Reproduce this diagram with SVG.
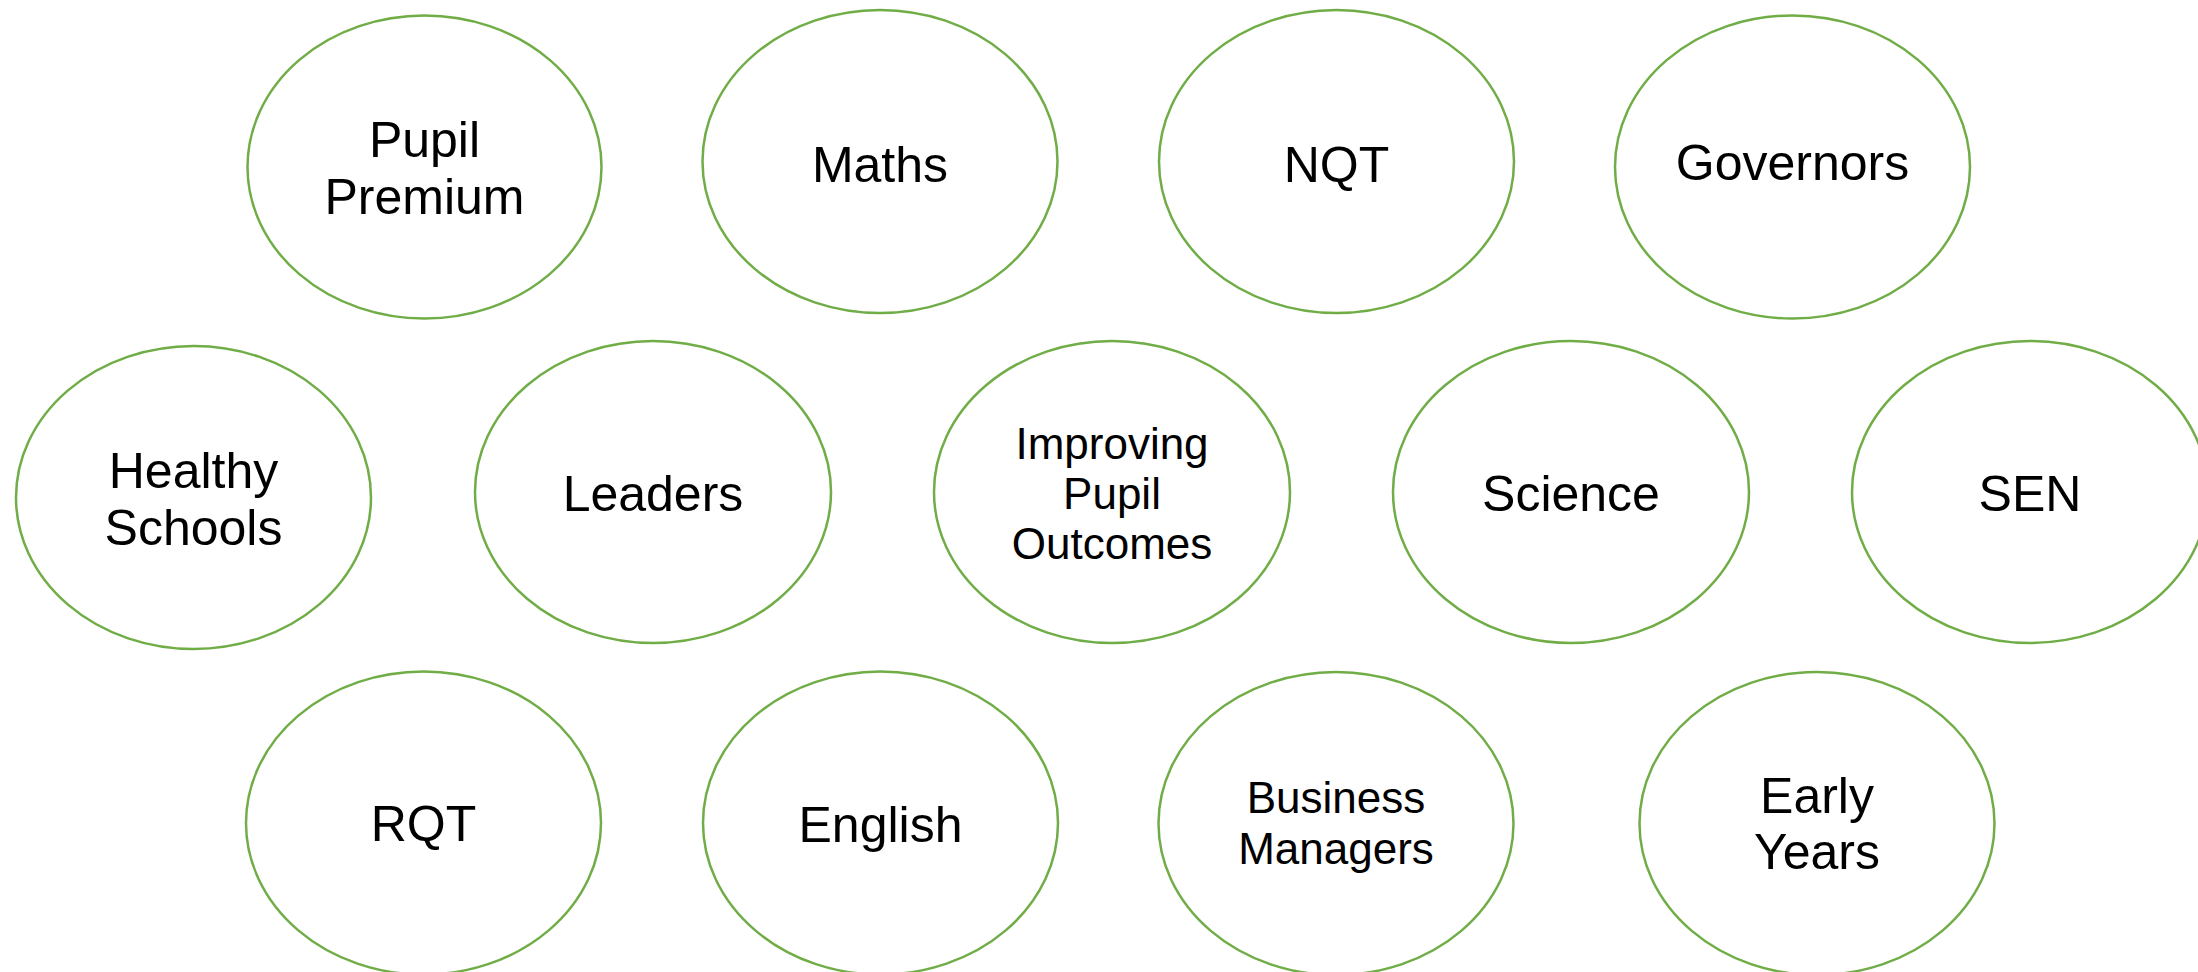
<svg xmlns="http://www.w3.org/2000/svg" width="2198" height="972" viewBox="0 0 2198 972">
<style>
.node ellipse{fill:#FFFFFF;stroke:#70AD47;stroke-width:2.5}
.node text{font-family:"Liberation Sans",Arial,sans-serif;font-size:50px;fill:#000000;text-anchor:middle}
.node text.sm{font-size:44px}
</style>
<rect x="0" y="0" width="2198" height="972" fill="#FFFFFF"/>
<g id="connectors"></g>
<g id="node-pupil-premium" class="node"><ellipse cx="424.5" cy="167" rx="177" ry="151.5"/><text x="424.5" y="157">Pupil</text><text x="424.5" y="214">Premium</text></g>
<g id="node-maths" class="node"><ellipse cx="880" cy="161.5" rx="177.5" ry="151.5"/><text x="880" y="182">Maths</text></g>
<g id="node-nqt" class="node"><ellipse cx="1336.5" cy="161.5" rx="177.5" ry="151.5"/><text x="1336.5" y="182">NQT</text></g>
<g id="node-governors" class="node"><ellipse cx="1792.5" cy="167" rx="177.5" ry="151.5"/><text x="1792.5" y="180">Governors</text></g>
<g id="node-healthy-schools" class="node"><ellipse cx="193.5" cy="497.5" rx="177.5" ry="151.5"/><text x="193.5" y="488">Healthy</text><text x="193.5" y="545">Schools</text></g>
<g id="node-leaders" class="node"><ellipse cx="653" cy="492" rx="178" ry="151"/><text x="653" y="511">Leaders</text></g>
<g id="node-improving-pupil-outcomes" class="node"><ellipse cx="1112" cy="492" rx="178" ry="151"/><text class="sm" x="1112" y="459">Improving</text><text class="sm" x="1112" y="509">Pupil</text><text class="sm" x="1112" y="559">Outcomes</text></g>
<g id="node-science" class="node"><ellipse cx="1571" cy="492" rx="178" ry="151"/><text x="1571" y="511">Science</text></g>
<g id="node-sen" class="node"><ellipse cx="2030" cy="492" rx="178" ry="151"/><text x="2030" y="511">SEN</text></g>
<g id="node-rqt" class="node"><ellipse cx="423.5" cy="823" rx="177.5" ry="151.5"/><text x="423.5" y="841">RQT</text></g>
<g id="node-english" class="node"><ellipse cx="880.5" cy="823" rx="177.5" ry="151.5"/><text x="880.5" y="842">English</text></g>
<g id="node-business-managers" class="node"><ellipse cx="1336" cy="823.5" rx="177.5" ry="151.5"/><text class="sm" x="1336" y="813">Business</text><text class="sm" x="1336" y="864">Managers</text></g>
<g id="node-early-years" class="node"><ellipse cx="1817" cy="823.5" rx="177.5" ry="151.5"/><text x="1817" y="813">Early</text><text x="1817" y="869">Years</text></g>
</svg>
